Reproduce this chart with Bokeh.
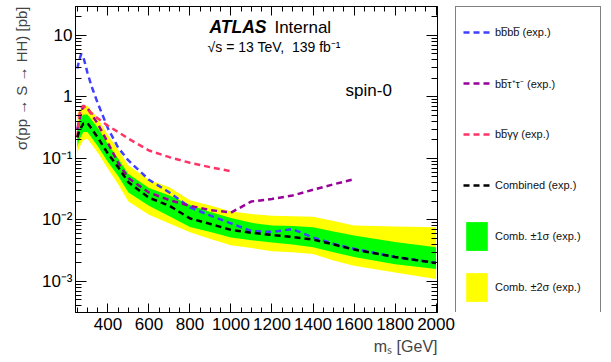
import math
from bokeh.plotting import figure
from bokeh.layouts import row
from bokeh.models import (Range1d, FixedTicker, LinearAxis, LogAxis, CustomJSTickFormatter,
                          Legend, LegendItem, Label, Title)
from bokeh.embed import file_html
from bokeh.resources import INLINE

# ---------------- data ----------------
mass_comb = [251, 260, 280, 300, 350, 400, 450, 500, 600, 700, 800, 900, 1000,
             1100, 1200, 1300, 1400, 1500, 1600, 1800, 2000]
comb_exp = [0.22, 0.28, 0.37, 0.38, 0.22, 0.12, 0.072, 0.041, 0.023, 0.017, 0.0106,
            0.0086, 0.0069, 0.0062, 0.0057, 0.0053, 0.0048, 0.0040, 0.0033, 0.0025, 0.0020]
comb_p2 = [0.54, 0.60, 0.72, 0.72, 0.45, 0.24, 0.14, 0.077, 0.045, 0.034, 0.021,
           0.0172, 0.0138, 0.0125, 0.0117, 0.0115, 0.0113, 0.0096, 0.0081, 0.0078, 0.0076]
comb_p1 = [0.36, 0.42, 0.52, 0.52, 0.32, 0.17, 0.10, 0.056, 0.033, 0.025, 0.0175,
           0.0135, 0.0108, 0.0090, 0.0081, 0.0080, 0.0076, 0.0065, 0.0056, 0.0044, 0.0036]
comb_m1 = [0.15, 0.20, 0.27, 0.27, 0.16, 0.088, 0.052, 0.028, 0.017, 0.0115, 0.0077,
           0.0064, 0.0052, 0.0047, 0.0043, 0.0040, 0.0036, 0.0030, 0.0025, 0.0019, 0.0016]
comb_m2 = [0.12, 0.15, 0.20, 0.21, 0.125, 0.068, 0.038, 0.020, 0.0122, 0.0088, 0.0063,
           0.0049, 0.0039, 0.0035, 0.0031, 0.0030, 0.0028, 0.0022, 0.0018, 0.0014, 0.0011]

mass_4b = [251, 260, 270, 280, 300, 320, 350, 400, 450, 500, 600, 700, 800, 900, 1000,
           1100, 1200, 1300, 1400, 1500, 1600, 1800, 2000]
xs_4b = [2.9, 4.0, 5.0, 4.5, 2.5, 1.5, 0.8, 0.31, 0.15, 0.093, 0.045, 0.028, 0.016,
         0.0118, 0.0088, 0.0066, 0.0064, 0.0071, 0.0052, 0.0041, 0.0034, 0.0025, 0.0020]

mass_bbtt = [251, 260, 280, 300, 350, 400, 450, 500, 600, 700, 800, 900, 1000,
             1100, 1200, 1300, 1400, 1500, 1600]
xs_bbtt = [0.30, 0.42, 0.72, 0.66, 0.37, 0.18, 0.085, 0.048, 0.028, 0.021, 0.017,
           0.0145, 0.0132, 0.020, 0.022, 0.025, 0.031, 0.038, 0.046]

mass_bbyy = [251, 260, 270, 280, 300, 350, 400, 450, 500, 600, 700, 800, 900, 1000]
xs_bbyy = [0.22, 0.50, 0.68, 0.72, 0.62, 0.45, 0.34, 0.27, 0.21, 0.135, 0.105, 0.085,
           0.072, 0.062]

x_major = [400, 600, 800, 1000, 1200, 1400, 1600, 1800, 2000]
x_minor = list(range(250, 2001, 50))
y_major = [1e-3, 1e-2, 1e-1, 1.0, 10.0]
y_minor = [m * 10.0 ** e for e in range(-4, 2) for m in range(2, 10)]

labels = ["bb\u0305bb\u0305 (exp.)", "bb\u0305\u03c4\u207a\u03c4\u207b (exp.)",
          "bb\u0305\u03b3\u03b3 (exp.)", "Combined (exp.)",
          "Comb. \u00b11\u03c3 (exp.)", "Comb. \u00b12\u03c3 (exp.)"]

FONT = "Liberation Sans"
C_4B, C_TT, C_YY = "#3f3fff", "#990099", "#ff3366"
C_G, C_Y = "#00ff00", "#ffff00"
DASH = "6 4"
LW = 2.5

# ---------------- main figure ----------------
p = figure(width=455, height=360,
           x_range=Range1d(242, 2007), y_range=Range1d(3.13e-4, 29.6),
           y_axis_type="log", output_backend="svg", toolbar_location=None,
           min_border_left=75, min_border_right=18, min_border_top=6,
           min_border_bottom=48)
p.grid.visible = False
p.outline_line_color = "black"
p.background_fill_color = "white"

xt = FixedTicker(ticks=x_major, minor_ticks=x_minor)
yt = FixedTicker(ticks=y_major, minor_ticks=y_minor)

yfmt = CustomJSTickFormatter(code="""
const e = Math.round(Math.log10(tick));
if (e == 0) return "1";
if (e == 1) return "10";
const sup = {"-":"\u207b","0":"\u2070","1":"\u00b9","2":"\u00b2","3":"\u00b3","4":"\u2074"};
return "10" + String(e).split("").map(c => sup[c]).join("");
""")
blank = CustomJSTickFormatter(code="return '';")

def style_axis(ax, tin, tmin):
    ax.axis_line_color = "black"
    ax.axis_line_width = 1
    ax.major_tick_in = tin
    ax.major_tick_out = 0
    ax.minor_tick_in = tmin
    ax.minor_tick_out = 0
    ax.major_tick_line_color = "black"
    ax.minor_tick_line_color = "black"
    ax.major_label_text_font = FONT
    ax.major_label_text_font_size = "17px"
    ax.major_label_text_color = "black"

xa = p.xaxis[0]
xa.ticker = xt
style_axis(xa, 9, 5)
xa.major_label_standoff = 5
ya = p.yaxis[0]
ya.ticker = yt
ya.formatter = yfmt
style_axis(ya, 11, 6)
ya.major_label_standoff = 3

top = LinearAxis(ticker=xt, formatter=blank)
style_axis(top, 9, 5)
top.major_label_standoff = 0
p.add_layout(top, "above")
right = LogAxis(ticker=yt, formatter=blank)
style_axis(right, 11, 6)
right.major_label_standoff = 0
p.add_layout(right, "right")

# axis titles (ROOT style: right / top aligned)
p.add_layout(Title(text="m\u209b [GeV]", align="right", text_font=FONT,
                   text_font_size="16px", text_font_style="normal", standoff=7), "below")
p.add_layout(Title(text="\u03c3(pp \u2192 S \u2192 HH) [pb]", align="right",
                   text_font=FONT, text_font_size="15px", text_font_style="normal",
                   standoff=17), "left")

# ---------------- glyphs ----------------
p.varea(x=mass_comb, y1=comb_m2, y2=comb_p2, fill_color=C_Y)
p.varea(x=mass_comb, y1=comb_m1, y2=comb_p1, fill_color=C_G)
p.line(mass_4b, xs_4b, line_color=C_4B, line_width=LW, line_dash=DASH)
p.line(mass_bbtt, xs_bbtt, line_color=C_TT, line_width=LW, line_dash=DASH)
p.line(mass_bbyy, xs_bbyy, line_color=C_YY, line_width=LW, line_dash=DASH)
p.line(mass_comb, comb_exp, line_color="black", line_width=LW, line_dash=DASH)

def lab(x, y, text, size, **kw):
    p.add_layout(Label(x=x, y=y, text=text, text_font=FONT, text_font_size=size,
                       text_color="black", text_baseline="middle", **kw))

lab(895, 13.5, "ATLAS", "17.5px", text_font_style="bold italic")
lab(1212, 13.5, "Internal", "17px")
lab(886, 6.38, "\u221as = 13 TeV,\u00a0\u00a0139 fb\u207b\u00b9", "14px")
lab(1559, 1.28, "spin-0", "17px")

# ---------------- legend panel (separate figure) ----------------
q = figure(width=150, height=360, x_range=Range1d(0, 1), y_range=Range1d(0, 1),
           output_backend="svg", toolbar_location=None,
           x_axis_location=None, y_axis_location=None,
           min_border_left=0, min_border_right=2, min_border_top=6, min_border_bottom=48)
q.grid.visible = False
q.outline_line_color = None
q.background_fill_color = "white"

# legend-sample renderers (placed outside the visible range; only their styles are used)
off_x, off_y = [-2, -1], [-2, -2]
s_4b = q.line(off_x, off_y, line_color=C_4B, line_width=LW, line_dash=DASH)
s_tt = q.line(off_x, off_y, line_color=C_TT, line_width=LW, line_dash=DASH)
s_yy = q.line(off_x, off_y, line_color=C_YY, line_width=LW, line_dash=DASH)
s_c = q.line(off_x, off_y, line_color="black", line_width=LW, line_dash=DASH)
s_g = q.varea(x=off_x, y1=off_y, y2=[-1, -1], fill_color=C_G)
s_y = q.varea(x=off_x, y1=off_y, y2=[-1, -1], fill_color=C_Y)

legend = Legend(items=[LegendItem(label=lbl, renderers=[r]) for lbl, r in
                       zip(labels, [s_4b, s_tt, s_yy, s_c, s_g, s_y])],
                location="top_left")
legend.border_line_color = "black"
legend.border_line_width = 1
legend.background_fill_color = "white"
legend.background_fill_alpha = 1
legend.label_text_font = FONT
legend.label_text_font_size = "11px"
legend.label_text_color = "#111111"
legend.label_text_baseline = "top"
legend.glyph_width = 27
legend.glyph_height = 36
legend.label_height = 36
legend.label_width = 98
legend.spacing = 15
legend.padding = 7
legend.margin = 0
legend.label_standoff = 5
q.add_layout(legend)

layout = row(p, q)
open("out.html", "w").write(file_html(layout, INLINE))
